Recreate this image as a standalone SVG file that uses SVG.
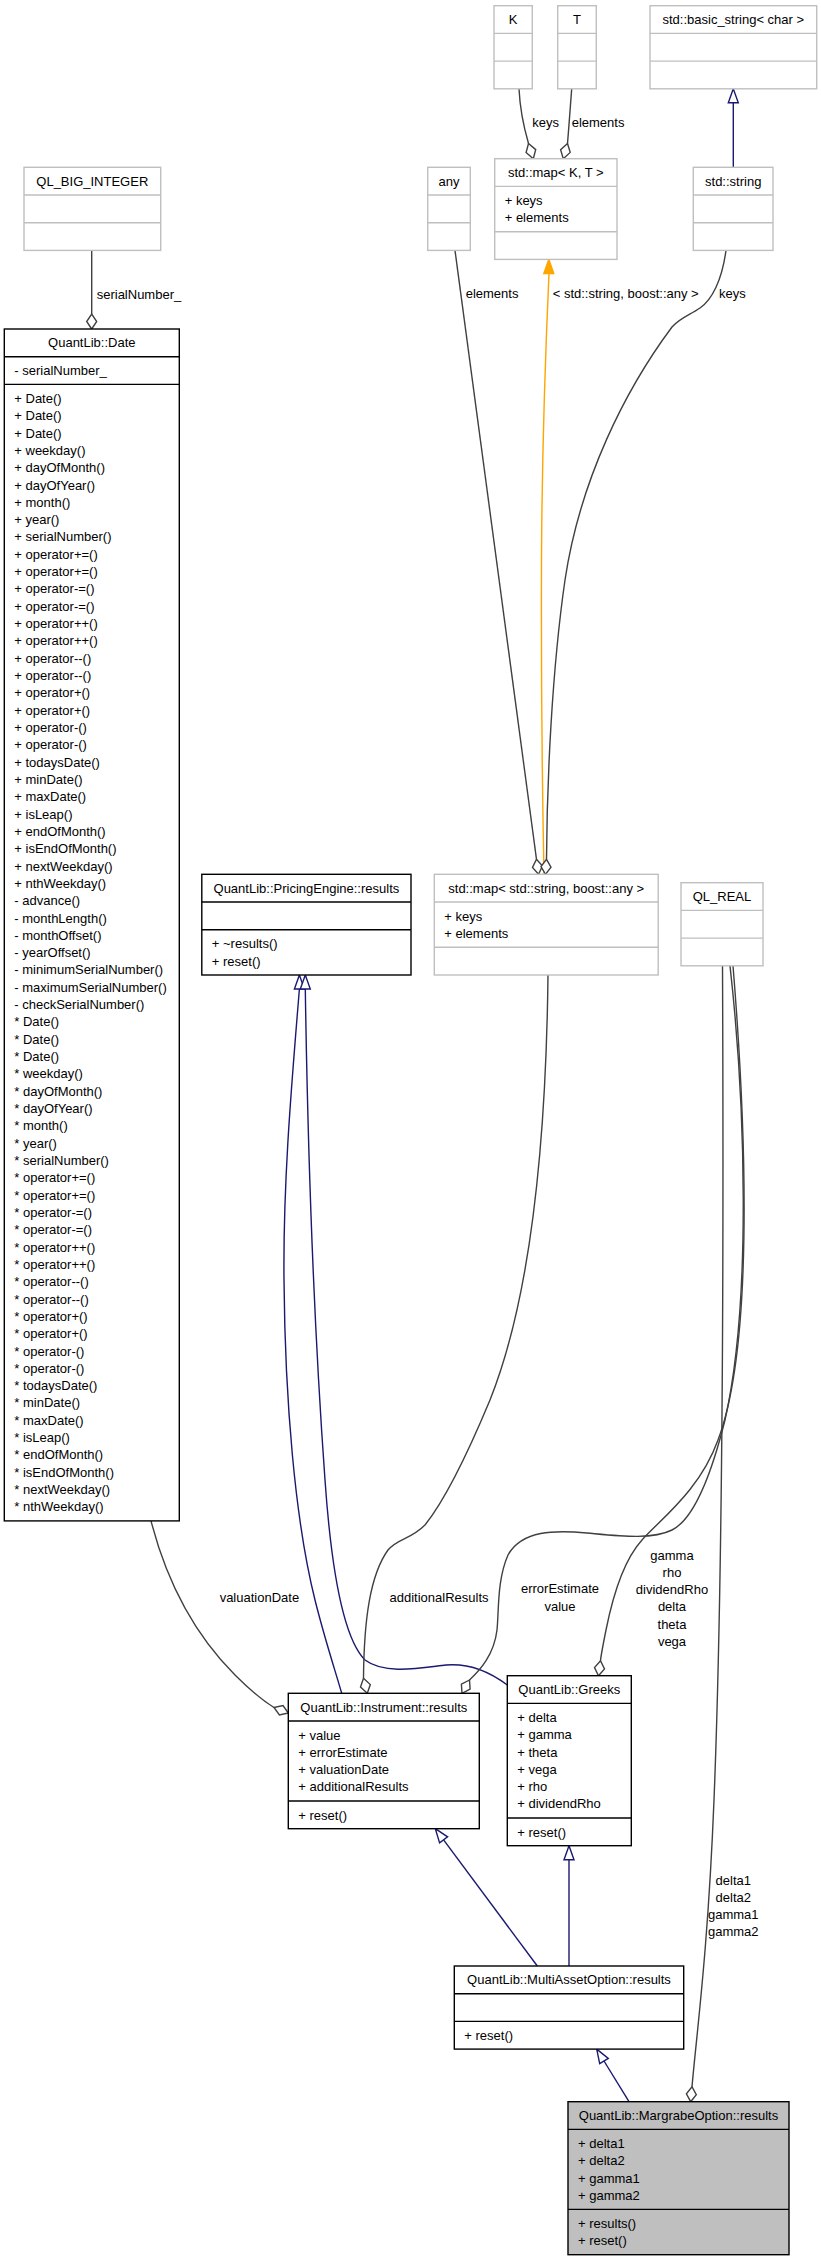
<svg xmlns="http://www.w3.org/2000/svg" width="821" height="2261" viewBox="0 0 821 2261">
<style>
.n{fill:#fff;stroke:#000;stroke-width:1.4}
.g{fill:#fff;stroke:#bfbfbf;stroke-width:1.4}
.s{fill:#bfbfbf;stroke:#000;stroke-width:1.4}
.dn{stroke:#000;stroke-width:1.4}
.dg{stroke:#bfbfbf;stroke-width:1.4}
text{font-family:"Liberation Sans",Arial,Helvetica,sans-serif;font-size:13px;fill:#000}
.c{text-anchor:middle}
.e{fill:none;stroke:#404040;stroke-width:1.4}
.b{fill:none;stroke:#191970;stroke-width:1.4}
.o{fill:none;stroke:#ffa500;stroke-width:1.4}
.ed{fill:#fff;stroke:#404040;stroke-width:1.4}
.bt{fill:#fff;stroke:#191970;stroke-width:1.4}
.ot{fill:#ffa500;stroke:#ffa500;stroke-width:1.4}
</style>
<rect width="821" height="2261" fill="#fff"/>
<g id="edges">
<!-- QL_BIG_INTEGER -> Date -->
<path class="e" d="M91.7,250.4 L91.7,314"/>
<polygon class="ed" points="91.7,329 86.7,321.5 91.7,314 96.7,321.5"/>
<text x="96.7" y="298.8">serialNumber_</text>
<!-- K -> map<K,T> -->
<path class="e" d="M519,88.8 C520,110 524,128 528.5,143.5"/>
<polygon class="ed" points="533.3,158.7 535.7,149.6 528.5,143.5 526.1,152.6"/>
<text x="532.3" y="127.2">keys</text>
<!-- T -> map<K,T> -->
<path class="e" d="M571.7,88.8 C570.5,105 569,125 567.5,143.5"/>
<polygon class="ed" points="563.3,158.7 570.2,152.4 567.5,143.5 560.6,149.8"/>
<text x="571.7" y="127.2">elements</text>
<!-- std::string -> basic_string -->
<path class="b" d="M733.3,167.3 L733.3,102.8"/>
<polygon class="bt" points="733.3,88.8 728.3,102.8 738.3,102.8"/>
<!-- any -> map2 -->
<path class="e" d="M455,250.4 L536.5,859.3"/>
<polygon class="ed" points="538.5,874.3 542.5,866.1 536.5,859.3 532.5,867.5"/>
<text x="465.7" y="297.5">elements</text>
<!-- template -->
<path class="o" d="M549,273.6 C546,340 542,450 541.5,560 C541,700 542.5,800 544,874.3"/>
<polygon class="ot" points="548.8,259.4 543.8,273.6 553.8,273.6"/>
<text x="552.7" y="297.5">&lt; std::string, boost::any &gt;</text>
<!-- std::string -> map2 -->
<path class="e" d="M726,250.4 C722,280 712,300 700,308 C690,315 680,318 672,327 C625,390 580,480 565,580 C552,670 547,780 546.5,859.3"/>
<polygon class="ed" points="545.5,874.3 551,867.1 546.5,859.3 541,866.5"/>
<text x="719" y="297.5">keys</text>
<!-- Date -> Instrument -->
<path class="e" d="M151,1520.9 C165,1575 190,1630 235,1675 C250,1690 262,1700 274,1707.5"/>
<polygon class="ed" points="288.3,1713 283,1705.6 274,1707.5 279.4,1715"/>
<text class="c" x="259.4" y="1602">valuationDate</text>
<!-- Instrument -> PricingEngine -->
<path class="b" d="M299.4,989 C292,1080 283,1180 284,1280 C285,1400 295,1520 315,1600 C325,1640 335,1670 341.7,1693.3"/>
<polygon class="bt" points="299.4,975 294.4,989 304.4,989"/>
<!-- Greeks -> PricingEngine -->
<path class="b" d="M305.3,989 C307,1100 312,1300 325,1480 C332,1580 345,1640 365,1660 C385,1675 420,1668 446,1665 C470,1663 490,1672 507.3,1685"/>
<polygon class="bt" points="305.3,975 300.3,989 310.3,989"/>
<!-- map2 -> Instrument -->
<path class="e" d="M548,975 C546,1150 530,1300 490,1400 C465,1460 445,1500 425,1525 C410,1540 398,1538 388,1550 C370,1575 364,1620 363.5,1678.3"/>
<polygon class="ed" points="367.3,1693.3 370.3,1684.6 363.5,1678.3 360.5,1687"/>
<text class="c" x="439" y="1602">additionalResults</text>
<!-- QL_REAL -> Instrument -->
<path class="e" d="M730,965.8 C745,1100 752,1300 725,1420 C710,1480 692,1520 672,1530 C652,1540 620,1536 587,1533 C555,1530 522,1530 508,1555 C497,1580 499,1610 497,1630 C494,1655 480,1670 469.5,1680"/>
<polygon class="ed" points="462,1693.3 470.1,1689.1 469.5,1680 461.4,1684.2"/>
<text class="c" x="560" y="1593">errorEstimate</text>
<text class="c" x="560" y="1610.5">value</text>
<!-- QL_REAL -> Greeks -->
<path class="e" d="M733,965.8 C748,1150 752,1350 718,1440 C700,1490 662,1518 642,1540 C622,1562 612,1600 606,1630 C603,1645 601,1655 600.5,1660.7"/>
<polygon class="ed" points="598.5,1675.7 604.5,1668.9 600.5,1660.7 594.5,1667.5"/>
<text class="c" x="672" y="1559.5">gamma</text>
<text class="c" x="672" y="1576.8">rho</text>
<text class="c" x="672" y="1594.1">dividendRho</text>
<text class="c" x="672" y="1611.4">delta</text>
<text class="c" x="672" y="1628.7">theta</text>
<text class="c" x="672" y="1646">vega</text>
<!-- QL_REAL -> Margrabe -->
<path class="e" d="M722.5,965.8 C724,1300 722,1600 714,1800 C708,1950 697,2030 692,2086.7"/>
<polygon class="ed" points="690.7,2101.7 696.3,2094.6 692,2086.7 686.4,2093.8"/>
<text class="c" x="733.3" y="1884.5">delta1</text>
<text class="c" x="733.3" y="1901.8">delta2</text>
<text class="c" x="733.3" y="1919.1">gamma1</text>
<text class="c" x="733.3" y="1936.4">gamma2</text>
<!-- MultiAsset -> Instrument -->
<path class="b" d="M443.6,1839.9 L537.3,1966"/>
<polygon class="bt" points="435.3,1828.7 447.6,1836.9 439.6,1842.9"/>
<!-- MultiAsset -> Greeks -->
<path class="b" d="M569,1966 L569,1859.7"/>
<polygon class="bt" points="569,1845.7 564,1859.7 574,1859.7"/>
<!-- Margrabe -> MultiAsset -->
<path class="b" d="M604,2061 L629,2101.7"/>
<polygon class="bt" points="596.7,2049.1 608.3,2058.4 599.7,2063.6"/>
</g>
<g id="node-K">
<rect class="g" x="494" y="5.7" width="38.3" height="83.1"/>
<line class="dg" x1="494" y1="33.4" x2="532.3" y2="33.4"/>
<line class="dg" x1="494" y1="61.1" x2="532.3" y2="61.1"/>
<text class="c" x="513.2" y="24">K</text>
</g>
<g id="node-T">
<rect class="g" x="557.7" y="5.7" width="38.6" height="83.1"/>
<line class="dg" x1="557.7" y1="33.4" x2="596.3" y2="33.4"/>
<line class="dg" x1="557.7" y1="61.1" x2="596.3" y2="61.1"/>
<text class="c" x="577" y="24">T</text>
</g>
<g id="node-basic_string">
<rect class="g" x="650" y="5.7" width="166.7" height="83.1"/>
<line class="dg" x1="650" y1="33.4" x2="816.7" y2="33.4"/>
<line class="dg" x1="650" y1="61.1" x2="816.7" y2="61.1"/>
<text class="c" x="733.3" y="24">std::basic_string&lt; char &gt;</text>
</g>
<g id="node-mapKT">
<rect class="g" x="494.7" y="158.7" width="122.3" height="100.7"/>
<line class="dg" x1="494.7" y1="186.4" x2="617" y2="186.4"/>
<line class="dg" x1="494.7" y1="231.7" x2="617" y2="231.7"/>
<text class="c" x="555.8" y="177">std::map&lt; K, T &gt;</text>
<text x="504.7" y="204.9">+ keys</text>
<text x="504.7" y="222.2">+ elements</text>
</g>
<g id="node-any">
<rect class="g" x="427.7" y="167.3" width="42.6" height="83.1"/>
<line class="dg" x1="427.7" y1="195" x2="470.3" y2="195"/>
<line class="dg" x1="427.7" y1="222.7" x2="470.3" y2="222.7"/>
<text class="c" x="449" y="185.6">any</text>
</g>
<g id="node-string">
<rect class="g" x="693.3" y="167.3" width="79.7" height="83.1"/>
<line class="dg" x1="693.3" y1="195" x2="773" y2="195"/>
<line class="dg" x1="693.3" y1="222.7" x2="773" y2="222.7"/>
<text class="c" x="733.2" y="185.6">std::string</text>
</g>
<g id="node-QL_BIG_INTEGER">
<rect class="g" x="24" y="167.3" width="136.7" height="83.1"/>
<line class="dg" x1="24" y1="195" x2="160.7" y2="195"/>
<line class="dg" x1="24" y1="222.7" x2="160.7" y2="222.7"/>
<text class="c" x="92.3" y="185.6">QL_BIG_INTEGER</text>
</g>
<g id="node-Date">
<rect class="n" x="4.3" y="329" width="175" height="1191.9"/>
<line class="dn" x1="4.3" y1="356.7" x2="179.3" y2="356.7"/>
<line class="dn" x1="4.3" y1="384.4" x2="179.3" y2="384.4"/>
<text class="c" x="91.8" y="347.3">QuantLib::Date</text>
<text x="14.3" y="375.2">- serialNumber_</text>
<text x="14.3" y="402.9"><tspan x="14.3" dy="0">+ Date()</tspan><tspan x="14.3" dy="17.32">+ Date()</tspan><tspan x="14.3" dy="17.32">+ Date()</tspan><tspan x="14.3" dy="17.32">+ weekday()</tspan><tspan x="14.3" dy="17.32">+ dayOfMonth()</tspan><tspan x="14.3" dy="17.32">+ dayOfYear()</tspan><tspan x="14.3" dy="17.32">+ month()</tspan><tspan x="14.3" dy="17.32">+ year()</tspan><tspan x="14.3" dy="17.32">+ serialNumber()</tspan><tspan x="14.3" dy="17.32">+ operator+=()</tspan><tspan x="14.3" dy="17.32">+ operator+=()</tspan><tspan x="14.3" dy="17.32">+ operator-=()</tspan><tspan x="14.3" dy="17.32">+ operator-=()</tspan><tspan x="14.3" dy="17.32">+ operator++()</tspan><tspan x="14.3" dy="17.32">+ operator++()</tspan><tspan x="14.3" dy="17.32">+ operator--()</tspan><tspan x="14.3" dy="17.32">+ operator--()</tspan><tspan x="14.3" dy="17.32">+ operator+()</tspan><tspan x="14.3" dy="17.32">+ operator+()</tspan><tspan x="14.3" dy="17.32">+ operator-()</tspan><tspan x="14.3" dy="17.32">+ operator-()</tspan><tspan x="14.3" dy="17.32">+ todaysDate()</tspan><tspan x="14.3" dy="17.32">+ minDate()</tspan><tspan x="14.3" dy="17.32">+ maxDate()</tspan><tspan x="14.3" dy="17.32">+ isLeap()</tspan><tspan x="14.3" dy="17.32">+ endOfMonth()</tspan><tspan x="14.3" dy="17.32">+ isEndOfMonth()</tspan><tspan x="14.3" dy="17.32">+ nextWeekday()</tspan><tspan x="14.3" dy="17.32">+ nthWeekday()</tspan><tspan x="14.3" dy="17.32">- advance()</tspan><tspan x="14.3" dy="17.32">- monthLength()</tspan><tspan x="14.3" dy="17.32">- monthOffset()</tspan><tspan x="14.3" dy="17.32">- yearOffset()</tspan><tspan x="14.3" dy="17.32">- minimumSerialNumber()</tspan><tspan x="14.3" dy="17.32">- maximumSerialNumber()</tspan><tspan x="14.3" dy="17.32">- checkSerialNumber()</tspan><tspan x="14.3" dy="17.32">* Date()</tspan><tspan x="14.3" dy="17.32">* Date()</tspan><tspan x="14.3" dy="17.32">* Date()</tspan><tspan x="14.3" dy="17.32">* weekday()</tspan><tspan x="14.3" dy="17.32">* dayOfMonth()</tspan><tspan x="14.3" dy="17.32">* dayOfYear()</tspan><tspan x="14.3" dy="17.32">* month()</tspan><tspan x="14.3" dy="17.32">* year()</tspan><tspan x="14.3" dy="17.32">* serialNumber()</tspan><tspan x="14.3" dy="17.32">* operator+=()</tspan><tspan x="14.3" dy="17.32">* operator+=()</tspan><tspan x="14.3" dy="17.32">* operator-=()</tspan><tspan x="14.3" dy="17.32">* operator-=()</tspan><tspan x="14.3" dy="17.32">* operator++()</tspan><tspan x="14.3" dy="17.32">* operator++()</tspan><tspan x="14.3" dy="17.32">* operator--()</tspan><tspan x="14.3" dy="17.32">* operator--()</tspan><tspan x="14.3" dy="17.32">* operator+()</tspan><tspan x="14.3" dy="17.32">* operator+()</tspan><tspan x="14.3" dy="17.32">* operator-()</tspan><tspan x="14.3" dy="17.32">* operator-()</tspan><tspan x="14.3" dy="17.32">* todaysDate()</tspan><tspan x="14.3" dy="17.32">* minDate()</tspan><tspan x="14.3" dy="17.32">* maxDate()</tspan><tspan x="14.3" dy="17.32">* isLeap()</tspan><tspan x="14.3" dy="17.32">* endOfMonth()</tspan><tspan x="14.3" dy="17.32">* isEndOfMonth()</tspan><tspan x="14.3" dy="17.32">* nextWeekday()</tspan><tspan x="14.3" dy="17.32">* nthWeekday()</tspan></text>
</g>
<g id="node-PricingEngine_results">
<rect class="n" x="201.8" y="874.3" width="209.2" height="100.7"/>
<line class="dn" x1="201.8" y1="902" x2="411" y2="902"/>
<line class="dn" x1="201.8" y1="929.7" x2="411" y2="929.7"/>
<text class="c" x="306.4" y="892.6">QuantLib::PricingEngine::results</text>
<text x="211.8" y="948.2">+ ~results()</text>
<text x="211.8" y="965.5">+ reset()</text>
</g>
<g id="node-map_string_any">
<rect class="g" x="434.3" y="874.3" width="223.9" height="100.7"/>
<line class="dg" x1="434.3" y1="902" x2="658.2" y2="902"/>
<line class="dg" x1="434.3" y1="947.3" x2="658.2" y2="947.3"/>
<text class="c" x="546.2" y="892.6">std::map&lt; std::string, boost::any &gt;</text>
<text x="444.3" y="920.5">+ keys</text>
<text x="444.3" y="937.8">+ elements</text>
</g>
<g id="node-QL_REAL">
<rect class="g" x="681" y="882.7" width="82" height="83.1"/>
<line class="dg" x1="681" y1="910.4" x2="763" y2="910.4"/>
<line class="dg" x1="681" y1="938.1" x2="763" y2="938.1"/>
<text class="c" x="722" y="901">QL_REAL</text>
</g>
<g id="node-Instrument_results">
<rect class="n" x="288.3" y="1693.3" width="191" height="135.4"/>
<line class="dn" x1="288.3" y1="1721" x2="479.3" y2="1721"/>
<line class="dn" x1="288.3" y1="1801" x2="479.3" y2="1801"/>
<text class="c" x="383.8" y="1711.6">QuantLib::Instrument::results</text>
<text x="298.3" y="1739.5">+ value</text>
<text x="298.3" y="1756.8">+ errorEstimate</text>
<text x="298.3" y="1774.1">+ valuationDate</text>
<text x="298.3" y="1791.4">+ additionalResults</text>
<text x="298.3" y="1819.5">+ reset()</text>
</g>
<g id="node-Greeks">
<rect class="n" x="507.3" y="1675.7" width="124" height="170"/>
<line class="dn" x1="507.3" y1="1703.4" x2="631.3" y2="1703.4"/>
<line class="dn" x1="507.3" y1="1818" x2="631.3" y2="1818"/>
<text class="c" x="569.3" y="1694">QuantLib::Greeks</text>
<text x="517.3" y="1721.9">+ delta</text>
<text x="517.3" y="1739.2">+ gamma</text>
<text x="517.3" y="1756.5">+ theta</text>
<text x="517.3" y="1773.8">+ vega</text>
<text x="517.3" y="1791.1">+ rho</text>
<text x="517.3" y="1808.4">+ dividendRho</text>
<text x="517.3" y="1836.5">+ reset()</text>
</g>
<g id="node-MultiAssetOption_results">
<rect class="n" x="454.3" y="1966" width="229.4" height="83.1"/>
<line class="dn" x1="454.3" y1="1993.7" x2="683.7" y2="1993.7"/>
<line class="dn" x1="454.3" y1="2021.4" x2="683.7" y2="2021.4"/>
<text class="c" x="569" y="1984.3">QuantLib::MultiAssetOption::results</text>
<text x="464.3" y="2039.9">+ reset()</text>
</g>
<g id="node-MargrabeOption_results">
<rect class="s" x="568" y="2101.7" width="221" height="153"/>
<line class="dn" x1="568" y1="2129.4" x2="789" y2="2129.4"/>
<line class="dn" x1="568" y1="2209.4" x2="789" y2="2209.4"/>
<text class="c" x="678.5" y="2120">QuantLib::MargrabeOption::results</text>
<text x="578" y="2147.9">+ delta1</text>
<text x="578" y="2165.2">+ delta2</text>
<text x="578" y="2182.5">+ gamma1</text>
<text x="578" y="2199.8">+ gamma2</text>
<text x="578" y="2227.9">+ results()</text>
<text x="578" y="2245.2">+ reset()</text>
</g>
</svg>
